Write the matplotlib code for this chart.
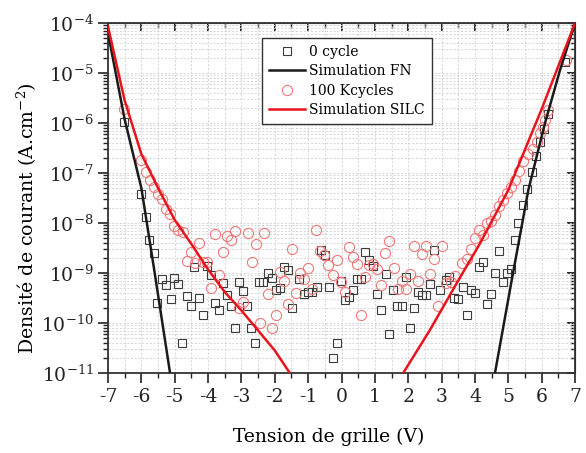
import numpy as np
import matplotlib.pyplot as plt
from matplotlib.ticker import MultipleLocator, LogLocator, NullFormatter

# data : gate voltage (V) and log10 of current density (A.cm-2)
v_0cycle = [-6.52, -6.0, -5.86, -5.76, -5.62, -5.52, -5.37, -5.26, -5.12, -5.02, -4.89, -4.77,
            -4.64, -4.52, -4.41, -4.27, -4.16, -4.04, -3.91, -3.79, -3.66, -3.54, -3.42, -3.30,
            -3.18, -3.06, -2.94, -2.82, -2.70, -2.58, -2.46, -2.34, -2.21, -2.09, -1.96, -1.84,
            -1.72, -1.59, -1.47, -1.28, -1.12, -1.0, -0.87, -0.74, -0.62, -0.50, -0.38, -0.26,
            -0.14, -0.02, 0.10, 0.23, 0.35, 0.45, 0.58, 0.71, 0.83, 0.95, 1.07, 1.19, 1.32,
            1.43, 1.55, 1.67, 1.80, 1.92, 2.04, 2.17, 2.28, 2.41, 2.53, 2.65, 2.77, 2.95, 3.13,
            3.23, 3.37, 3.50, 3.63, 3.75, 3.87, 4.00, 4.12, 4.25, 4.37, 4.48, 4.60, 4.73, 4.85,
            4.97, 5.09, 5.20, 5.30, 5.45, 5.57, 5.70, 5.82, 5.95, 6.07, 6.18, 6.70]
logj_0cycle = [-5.97, -7.42, -7.88, -8.34, -8.59, -9.59, -9.12, -9.24, -9.51, -9.09, -9.21, -10.39,
               -9.45, -9.66, -8.87, -9.50, -9.84, -8.85, -9.03, -9.59, -9.73, -9.19, -9.43, -9.65,
               -10.09, -9.17, -9.35, -9.65, -10.09, -10.39, -9.17, -9.17, -8.99, -9.09, -9.34, -9.29,
               -8.87, -8.94, -9.69, -9.11, -9.42, -9.37, -9.37, -9.27, -8.54, -8.64, -9.27, -10.69,
               -10.39, -9.16, -9.53, -9.47, -9.33, -9.12, -9.12, -8.57, -8.73, -8.86, -9.41, -9.74, -9.02,
               -10.21, -9.34, -9.65, -9.65, -9.07, -10.09, -9.69, -9.37, -9.44, -9.44, -9.21, -8.53, -9.34, -9.14,
               -9.07, -9.49, -9.51, -9.27, -9.84, -9.34, -9.39, -8.87, -8.77, -9.62, -9.42, -8.99, -8.55, -9.17,
               -8.99, -8.92, -8.33, -7.99, -7.64, -7.32, -6.97, -6.66, -6.37, -6.11, -5.82, -4.77]

v_100k = [-6.53, -6.0, -5.87, -5.75, -5.63, -5.50, -5.38, -5.26, -5.14, -5.02, -4.89, -4.76,
          -4.64, -4.52, -4.39, -4.27, -4.14, -4.02, -3.90, -3.79, -3.66, -3.56, -3.42, -3.30,
          -3.18, -3.06, -2.94, -2.81, -2.69, -2.57, -2.45, -2.33, -2.21, -2.08, -1.97, -1.84,
          -1.72, -1.60, -1.48, -1.36, -1.24, -1.12, -1.0, -0.88, -0.76, -0.64, -0.52, -0.40,
          -0.26, -0.14, -0.02, 0.10, 0.22, 0.34, 0.45, 0.58, 0.70, 0.82, 0.95, 1.07, 1.19,
          1.31, 1.43, 1.56, 1.68, 1.80, 1.92, 2.05, 2.17, 2.29, 2.41, 2.53, 2.65, 2.77, 2.88,
          3.02, 3.13, 3.27, 3.39, 3.62, 3.75, 3.87, 3.99, 4.11, 4.23, 4.35, 4.47, 4.60, 4.72,
          4.85, 4.97, 5.09, 5.21, 5.32, 5.45, 5.58, 5.75, 5.87, 5.95, 6.03, 6.10, 6.20, 6.72]
logj_100k = [-5.71, -6.73, -6.97, -7.14, -7.27, -7.42, -7.52, -7.72, -7.82, -8.05, -8.14, -8.17,
             -8.75, -8.57, -8.79, -8.39, -8.77, -8.77, -9.29, -8.21, -9.03, -8.57, -8.25, -8.34,
             -8.16, -9.69, -9.57, -8.19, -8.77, -8.42, -9.99, -8.19, -9.42, -10.09, -9.84, -8.97,
             -9.16, -9.62, -8.51, -9.39, -8.99, -9.12, -8.89, -9.31, -8.13, -8.55, -8.63, -8.84,
             -9.03, -8.73, -9.17, -9.37, -8.47, -8.67, -8.81, -9.84, -9.07, -8.84, -8.81, -8.91, -9.24,
             -8.59, -8.36, -8.89, -9.31, -9.16, -9.31, -9.01, -8.45, -9.16, -8.61, -8.45, -9.01, -8.72, -9.65,
             -8.46, -9.19, -9.17, -9.05, -8.79, -8.72, -8.52, -8.29, -8.14, -8.23, -7.99, -7.96, -7.84, -7.65,
             -7.54, -7.39, -7.27, -7.14, -6.95, -6.76, -6.61, -6.51, -6.37, -6.20, -6.07, -5.94, -5.74, -4.73]

# simulation curves
v_fn_neg = [-7.0, -6.5, -6.0, -5.6, -5.14]
logj_fn_neg = [-4.2, -5.93, -7.3, -9.0, -11.0]
v_fn_pos = [4.6, 5.1, 5.6, 6.1, 6.55, 7.0]
logj_fn_pos = [-11.0, -9.15, -7.34, -6.0, -4.94, -4.0]

v_silc_neg = [-7.0, -6.5, -6.0, -5.5, -5.0, -4.5, -4.0, -3.5, -3.0, -2.5, -2.0, -1.55]
logj_silc_neg = [-4.07, -5.55, -6.62, -7.3, -7.94, -8.42, -8.93, -9.38, -9.75, -10.15, -10.55, -11.0]
v_silc_pos = [1.85, 2.65, 3.5, 4.15, 5.0, 6.0, 7.0]
logj_silc_pos = [-11.0, -10.14, -9.15, -8.41, -7.34, -5.72, -4.0]

plt.rcParams['font.family'] = 'DejaVu Serif'
plt.rcParams['mathtext.fontset'] = 'dejavuserif'
plt.rcParams['axes.unicode_minus'] = False

fig = plt.figure(figsize=(5.86, 4.53), dpi=100)
ax = fig.add_axes([0.1843, 0.1766, 0.797, 0.7726])

ax.plot(v_0cycle, 10**np.array(logj_0cycle), ls='none', marker='s', ms=6, mfc='none',
        mec='#3c3c3c', mew=0.8, label='0 cycle', zorder=3)
ax.plot(v_fn_neg, 10**np.array(logj_fn_neg), color='#1a1a1a', lw=1.8, label='Simulation FN', zorder=4)
ax.plot(v_fn_pos, 10**np.array(logj_fn_pos), color='#1a1a1a', lw=1.8, zorder=4)
ax.plot(v_100k, 10**np.array(logj_100k), ls='none', marker='o', ms=7.3, mfc='none',
        mec='#f07878', mew=0.8, label='100 Kcycles', zorder=3)
ax.plot(v_silc_neg, 10**np.array(logj_silc_neg), color='#e8141c', lw=1.8, label='Simulation SILC', zorder=4)
ax.plot(v_silc_pos, 10**np.array(logj_silc_pos), color='#e8141c', lw=1.8, zorder=4)

ax.set_yscale('log')
ax.set_xlim(-7, 7)
ax.set_ylim(1e-11, 1e-4)
ax.xaxis.set_major_locator(MultipleLocator(1))
ax.xaxis.set_minor_locator(MultipleLocator(0.5))
ax.yaxis.set_major_locator(LogLocator(base=10, numticks=20))
ax.yaxis.set_minor_locator(LogLocator(base=10, subs=np.arange(2, 10), numticks=20))
ax.yaxis.set_minor_formatter(NullFormatter())

ax.grid(which='both', color='#d0d0d0', ls=(0, (2.5, 2)), lw=0.6)
ax.set_axisbelow(True)
ax.tick_params(which='major', direction='out', length=7, width=1.2, labelsize=13.5, colors='#222222')
ax.tick_params(which='minor', direction='out', length=3.5, width=1.0, colors='#222222')
for s in ax.spines.values():
    s.set_linewidth(1.3)
    s.set_color('#333333')

# inner ticks on top and right
top = ax.secondary_xaxis('top')
top.xaxis.set_major_locator(MultipleLocator(1))
top.xaxis.set_minor_locator(MultipleLocator(0.5))
top.tick_params(which='major', direction='in', length=6, width=1.2, labeltop=False)
top.tick_params(which='minor', direction='in', length=3.5, width=1.0)
right = ax.secondary_yaxis('right')
right.yaxis.set_major_locator(LogLocator(base=10, numticks=20))
right.yaxis.set_minor_locator(LogLocator(base=10, subs=np.arange(2, 10), numticks=20))
right.tick_params(which='major', direction='in', length=6, width=1.2, labelright=False)
right.tick_params(which='minor', direction='in', length=3.5, width=1.0, labelright=False)

ax.set_xlabel('Tension de grille (V)', fontsize=13.5)
ax.xaxis.set_label_coords(0.473, -0.157)
ax.set_ylabel('Densité de courant (A.cm$^{-2}$)', fontsize=13.6)
ax.yaxis.set_label_coords(-0.148, 0.443)

leg = ax.legend(loc='upper left', bbox_to_anchor=(0.33, 0.958), fontsize=10, fancybox=False,
                edgecolor='#333333', framealpha=1, handlelength=2.6, labelspacing=0.4,
                borderpad=0.5, handletextpad=0.3, borderaxespad=0)
leg.get_frame().set_linewidth(1.0)

plt.savefig('out.png', dpi=100)
